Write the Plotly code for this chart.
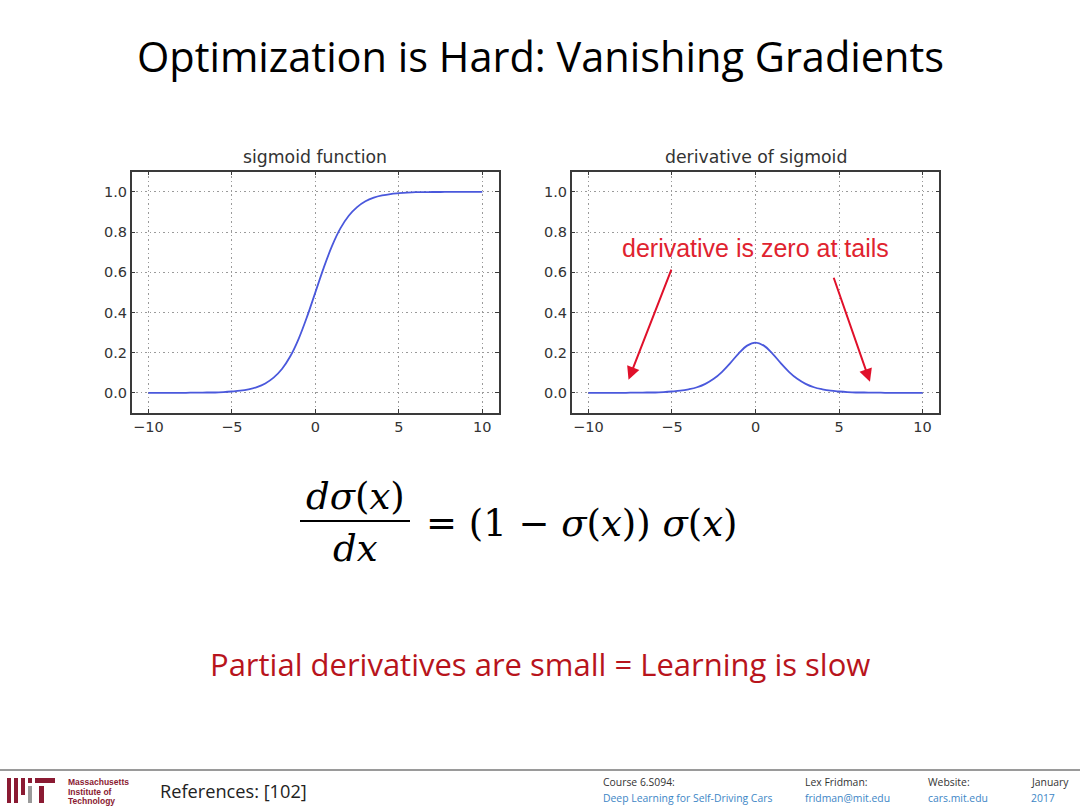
import plotly.graph_objects as go

# ---- data ----
x_vals = [-10, -9.5, -9, -8.5, -8, -7.5, -7, -6.5, -6, -5.5, -5, -4.5, -4, -3.5, -3, -2.5, -2, -1.5, -1, -0.5,
          0, 0.5, 1, 1.5, 2, 2.5, 3, 3.5, 4, 4.5, 5, 5.5, 6, 6.5, 7, 7.5, 8, 8.5, 9, 9.5, 10]
sigmoid_vals = [0.000, 0.000, 0.000, 0.000, 0.000, 0.001, 0.001, 0.002, 0.002, 0.004, 0.007, 0.011, 0.018, 0.029,
                0.047, 0.076, 0.119, 0.182, 0.269, 0.378, 0.500, 0.622, 0.731, 0.818, 0.881, 0.924, 0.953, 0.971,
                0.982, 0.989, 0.993, 0.996, 0.998, 0.998, 0.999, 0.999, 1.000, 1.000, 1.000, 1.000, 1.000]
deriv_vals = [0.000, 0.000, 0.000, 0.000, 0.000, 0.001, 0.001, 0.002, 0.002, 0.004, 0.007, 0.011, 0.018, 0.028,
              0.045, 0.070, 0.105, 0.149, 0.197, 0.235, 0.250, 0.235, 0.197, 0.149, 0.105, 0.070, 0.045, 0.028,
              0.018, 0.011, 0.007, 0.004, 0.002, 0.002, 0.001, 0.001, 0.000, 0.000, 0.000, 0.000, 0.000]
x_ticks = [-10, -5, 0, 5, 10]
y_ticks = [0.0, 0.2, 0.4, 0.6, 0.8, 1.0]
y_tick_labels = ["0.0", "0.2", "0.4", "0.6", "0.8", "1.0"]
panel_titles = ["sigmoid function", "derivative of sigmoid"]
slide_title = "Optimization is Hard: Vanishing Gradients"
callout_text = "derivative is zero at tails"
bottom_text = "Partial derivatives are small = Learning is slow"

W, H = 1080, 810
def px(v):
    return v / W
def py(v):
    return 1 - v / H

LINE = "#4a58dc"
TXT = "#333333"
RED = "#e0232f"

fig = go.Figure()
fig.add_trace(go.Scatter(x=x_vals, y=sigmoid_vals, mode="lines", line=dict(color=LINE, width=1.8, shape="spline"),
                         xaxis="x", yaxis="y", showlegend=False, hoverinfo="skip"))
fig.add_trace(go.Scatter(x=x_vals, y=deriv_vals, mode="lines", line=dict(color=LINE, width=1.8, shape="spline"),
                         xaxis="x2", yaxis="y2", showlegend=False, hoverinfo="skip"))

ax_common = dict(showline=True, linecolor="#3a3a3a", linewidth=1.5, mirror="ticks", ticks="inside", ticklen=4,
                 tickcolor="#3a3a3a", showgrid=True, gridcolor="#9a9a9a", griddash="1.5px,3px", gridwidth=1.2,
                 zeroline=False, tickfont=dict(family="DejaVu Sans", size=14.5, color=TXT), fixedrange=True)

ydom = [py(413), py(171.7)]
fig.update_layout(
    width=W, height=H, margin=dict(l=0, r=0, t=0, b=0),
    paper_bgcolor="white", plot_bgcolor="white",
    xaxis=dict(domain=[px(131.7), px(499)], range=[-11, 11], tickvals=x_ticks, anchor="y", **ax_common),
    yaxis=dict(domain=ydom, range=[-0.1, 1.1], tickvals=y_ticks, ticktext=y_tick_labels, anchor="x", **ax_common),
    xaxis2=dict(domain=[px(571.7), px(939.3)], range=[-11, 11], tickvals=x_ticks, anchor="y2", **ax_common),
    yaxis2=dict(domain=ydom, range=[-0.1, 1.1], tickvals=y_ticks, ticktext=y_tick_labels, anchor="x2", **ax_common),
)

ann = []
# slide title
ann.append(dict(text=slide_title, x=0.5, y=py(56), xref="paper", yref="paper", showarrow=False,
                font=dict(family="Open Sans", size=41.5, color="black"), xanchor="center", yanchor="middle"))
# panel titles
ann.append(dict(text=panel_titles[0], x=px(315.3), y=py(157), xref="paper", yref="paper", showarrow=False,
                font=dict(family="DejaVu Sans", size=17.3, color=TXT), xanchor="center", yanchor="middle"))
ann.append(dict(text=panel_titles[1], x=px(755.5), y=py(157), xref="paper", yref="paper", showarrow=False,
                font=dict(family="DejaVu Sans", size=17.3, color=TXT), xanchor="center", yanchor="middle"))
# callout text
ann.append(dict(text=callout_text, x=px(755), y=py(248), xref="paper", yref="paper", showarrow=False,
                font=dict(family="Liberation Sans", size=25, color=RED), xanchor="center", yanchor="middle"))
# arrows
for (hx, hy, tx, ty) in [(-7.6, 0.065, -5.0, 0.62), (6.85, 0.055, 4.65, 0.58)]:
    ann.append(dict(x=hx, y=hy, ax=tx, ay=ty, xref="x2", yref="y2", axref="x2", ayref="y2", text="",
                    showarrow=True, arrowhead=2, arrowsize=1.3, arrowwidth=2, arrowcolor="#e0102a"))

# formula
FF = "DejaVu Serif"
FS = 37
ann.append(dict(text="<i>dσ</i>(<i>x</i>)", x=px(355), y=py(496), xref="paper", yref="paper", showarrow=False,
                font=dict(family=FF, size=FS, color="black"), xanchor="center", yanchor="middle"))
ann.append(dict(text="<i>dx</i>", x=px(355), y=py(548), xref="paper", yref="paper", showarrow=False,
                font=dict(family=FF, size=FS, color="black"), xanchor="center", yanchor="middle"))
ann.append(dict(text="= (1 − <i>σ</i>(<i>x</i>)) <i>σ</i>(<i>x</i>)", x=px(424), y=py(523), xref="paper", yref="paper",
                showarrow=False, font=dict(family=FF, size=FS, color="black"), xanchor="left", yanchor="middle"))

# bottom red line
ann.append(dict(text=bottom_text, x=0.5, y=py(664), xref="paper", yref="paper", showarrow=False,
                font=dict(family="Open Sans", size=31, color="#b8141c"), xanchor="center", yanchor="middle"))

# footer
ann.append(dict(text="References: [102]", x=px(158), y=py(791), xref="paper", yref="paper", showarrow=False,
                font=dict(family="Open Sans", size=18.2, color="#222222"), xanchor="left", yanchor="middle"))
BLUE = "#3d86c6"
foot = [(601, "Course 6.S094:", "Deep Learning for Self-Driving Cars"),
        (803, "Lex Fridman:", "fridman@mit.edu"),
        (926, "Website:", "cars.mit.edu"),
        (1029, "January", "2017")]
for fx, l1, l2 in foot:
    ann.append(dict(text=l1, x=px(fx), y=py(782), xref="paper", yref="paper", showarrow=False,
                    font=dict(family="Open Sans", size=10.4, color="#333333"), xanchor="left", yanchor="middle"))
    ann.append(dict(text=l2, x=px(fx), y=py(798), xref="paper", yref="paper", showarrow=False,
                    font=dict(family="Open Sans", size=10.4, color=BLUE), xanchor="left", yanchor="middle"))
MITRED = "#8a1a32"
for i, t in enumerate(["Massachusetts", "Institute of", "Technology"]):
    ann.append(dict(text="<b>" + t + "</b>", x=px(66), y=py(782 + 9.5 * i), xref="paper", yref="paper",
                    showarrow=False, font=dict(family="Liberation Sans", size=8.5, color=MITRED),
                    xanchor="left", yanchor="middle"))

shapes = []
# fraction bar
shapes.append(dict(type="line", xref="paper", yref="paper", x0=px(300), x1=px(410), y0=py(521), y1=py(521),
                   line=dict(color="black", width=2)))
# footer rule
shapes.append(dict(type="line", xref="paper", yref="paper", x0=0, x1=1, y0=py(770), y1=py(770),
                   line=dict(color="#9a9a9a", width=2)))
# MIT logo bars
def rect(x0, y0, x1, y1, c):
    return dict(type="rect", xref="paper", yref="paper", x0=px(x0), x1=px(x1), y0=py(y1), y1=py(y0),
                fillcolor=c, line=dict(width=0))
shapes += [rect(7, 778, 11, 803, MITRED), rect(14, 778, 18, 803, MITRED), rect(21, 778, 25, 795, MITRED),
           rect(28, 786, 32, 803, "#9a9a9a"), rect(28, 778, 32, 783, MITRED),
           rect(35, 778, 55, 783, MITRED), rect(39, 786, 44, 803, MITRED)]

fig.update_layout(annotations=ann, shapes=shapes)
fig.write_html("out.html")
